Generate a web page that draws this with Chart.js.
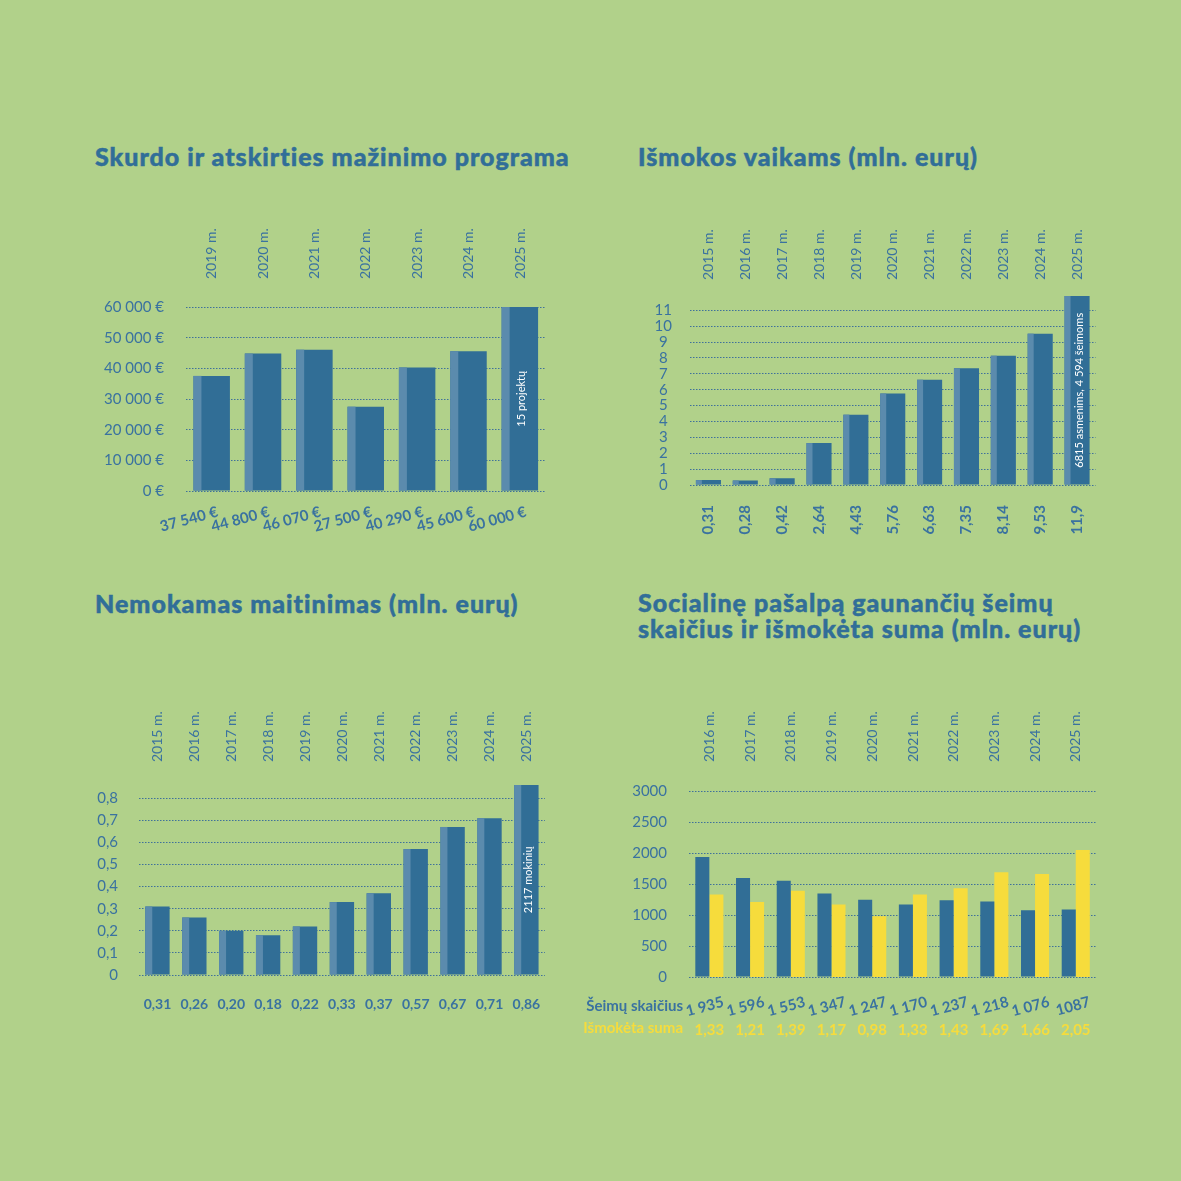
<!DOCTYPE html>
<html lang="lt">
<head>
<meta charset="UTF-8">
<title>Socialinė parama</title>
<script src="https://cdn.jsdelivr.net/npm/chart.js"></script>
<style>
  body { margin: 0; background: #b1d18a; width: 1181px; height: 1181px; position: relative; overflow: hidden; font-family: Lato, sans-serif; }
  h2 { position: absolute; margin: 0; font-size: 25px; font-weight: 900; color: #316e98; line-height: 27px; letter-spacing: 1px; white-space: nowrap; -webkit-text-stroke: 0.5px #316e98; }
  .box { position: absolute; }
</style>
</head>
<body>
<h2 style="left:95px;top:143px">Skurdo ir atskirties mažinimo programa</h2>
<h2 style="left:638px;top:143px">Išmokos vaikams (mln. eurų)</h2>
<h2 style="left:95px;top:590px">Nemokamas maitinimas (mln. eurų)</h2>
<h2 style="left:638px;top:589px;line-height:26px">Socialinę pašalpą gaunančių šeimų<br>skaičius ir išmokėta suma (mln. eurų)</h2>

<div class="box" style="left:91px;top:200px;width:457px;height:345px"><canvas id="c1"></canvas></div>
<div class="box" style="left:640px;top:200px;width:476px;height:345px"><canvas id="c2"></canvas></div>
<div class="box" style="left:90px;top:690px;width:472px;height:340px"><canvas id="c3"></canvas></div>
<div class="box" style="left:575px;top:690px;width:530px;height:350px"><canvas id="c4"></canvas></div>

<script>
// --- duomenys ---
const skurdoYears = ['2019 m.', '2020 m.', '2021 m.', '2022 m.', '2023 m.', '2024 m.', '2025 m.'];
const skurdoValues = [37540, 44800, 46070, 27500, 40290, 45600, 60000];
const skurdoLabels = ['37 540 €', '44 800 €', '46 070 €', '27 500 €', '40 290 €', '45 600 €', '60 000 €'];

const vaikamsYears = ['2015 m.', '2016 m.', '2017 m.', '2018 m.', '2019 m.', '2020 m.', '2021 m.', '2022 m.', '2023 m.', '2024 m.', '2025 m.'];
const vaikamsValues = [0.31, 0.28, 0.42, 2.64, 4.43, 5.76, 6.63, 7.35, 8.14, 9.53, 11.9];
const vaikamsLabels = ['0,31', '0,28', '0,42', '2,64', '4,43', '5,76', '6,63', '7,35', '8,14', '9,53', '11,9'];

const maitYears = ['2015 m.', '2016 m.', '2017 m.', '2018 m.', '2019 m.', '2020 m.', '2021 m.', '2022 m.', '2023 m.', '2024 m.', '2025 m.'];
const maitValues = [0.31, 0.26, 0.20, 0.18, 0.22, 0.33, 0.37, 0.57, 0.67, 0.71, 0.86];
const maitLabels = ['0,31', '0,26', '0,20', '0,18', '0,22', '0,33', '0,37', '0,57', '0,67', '0,71', '0,86'];

const pasalpaYears = ['2016 m.', '2017 m.', '2018 m.', '2019 m.', '2020 m.', '2021 m.', '2022 m.', '2023 m.', '2024 m.', '2025 m.'];
const seimuSkaicius = [1935, 1596, 1553, 1347, 1247, 1170, 1237, 1218, 1076, 1087];
const seimuLabels = ['1 935', '1 596', '1 553', '1 347', '1 247', '1 170', '1 237', '1 218', '1 076', '1087'];
const ismoketaSuma = [1.33, 1.21, 1.39, 1.17, 0.98, 1.33, 1.43, 1.69, 1.66, 2.05];
const sumaLabels = ['1,33', '1,21', '1,39', '1,17', '0,98', '1,33', '1,43', '1,69', '1,66', '2,05'];

// --- stilius ---
const BLUE = '#316e96';
const STRIP = '#5b8bad';
const TEXT = '#3a72a0';
const YELLOW = '#f6dc3c';
const GRID = '#3f719b';

// šviesi juosta kairėje stulpelio pusėje + baltas užrašas paskutiniame stulpelyje
const barDecor = {
    id: 'barDecor',
    afterDatasetsDraw(chart, args, opts) {
        const ctx = chart.ctx;
        const meta = chart.getDatasetMeta(0);
        if (opts.strip) {
            ctx.save();
            ctx.fillStyle = STRIP;
            meta.data.forEach(bar => {
                ctx.fillRect(bar.x - bar.width / 2, bar.y, opts.strip, bar.base - bar.y);
            });
            ctx.restore();
        }
        if (opts.note) {
            const bar = meta.data[meta.data.length - 1];
            ctx.save();
            ctx.translate(bar.x + 2, (bar.y + bar.base) / 2);
            ctx.rotate(-Math.PI / 2);
            ctx.fillStyle = '#ffffff';
            ctx.font = '11px Lato';
            ctx.textAlign = 'center';
            ctx.textBaseline = 'middle';
            ctx.fillText(opts.note, 0, 0);
            ctx.restore();
        }
        if (opts.rowTitles) {
            const sx = chart.scales.x, s3 = chart.scales.x3;
            ctx.save();
            ctx.font = 'bold 15px Lato';
            ctx.textAlign = 'right';
            ctx.textBaseline = 'middle';
            ctx.fillStyle = TEXT;
            ctx.fillText(opts.rowTitles[0], chart.chartArea.left - 6, sx.bottom - 11);
            ctx.fillStyle = YELLOW;
            ctx.fillText(opts.rowTitles[1], chart.chartArea.left - 6, (s3.top + s3.bottom) / 2);
            ctx.restore();
        }
    }
};

const gridY = { color: GRID, lineWidth: 1, drawTicks: false };
const noGrid = { display: false, drawTicks: false };
const dotted = { display: false, dash: [1.5, 1.5] };
const yearAxis = (labels, pad, h) => ({
    type: 'category', labels: labels, position: 'top', offset: true,
    grid: noGrid, border: { display: false },
    ticks: { minRotation: 90, maxRotation: 90, autoSkip: false, padding: pad, labelOffset: 17, color: TEXT, font: { family: 'Lato', size: 14 } },
    afterFit: s => { s.height = h; }
});
const common = {
    responsive: true, maintainAspectRatio: false, animation: false,
    plugins: { legend: { display: false }, tooltip: { enabled: false } }
};

// 1. Skurdo ir atskirties mažinimo programa
new Chart(document.getElementById('c1'), {
    type: 'bar',
    data: { labels: skurdoLabels, datasets: [{ data: skurdoValues, backgroundColor: BLUE, barPercentage: 0.71, categoryPercentage: 1 }] },
    plugins: [barDecor],
    options: {
        ...common,
        layout: { padding: { right: 2 } },
        plugins: { ...common.plugins, barDecor: { strip: 8, note: '15 projektų' } },
        scales: {
            x: {
                grid: noGrid, border: { display: false },
                ticks: { minRotation: 15, maxRotation: 15, autoSkip: false, padding: 12, labelOffset: 6, color: TEXT, font: { family: 'Lato', size: 15, weight: 'bold' } },
                afterFit: s => { s.height = 54; }
            },
            xTop: yearAxis(skurdoYears, 28, 107),
            y: {
                min: 0, max: 60000,
                grid: gridY, border: dotted,
                ticks: { stepSize: 10000, padding: 22, color: TEXT, font: { family: 'Lato', size: 15 },
                    callback: v => v === 0 ? '0 €' : (v / 1000) + ' 000 €' },
                afterFit: s => { s.width = 95; }
            }
        }
    }
});

// 2. Išmokos vaikams
new Chart(document.getElementById('c2'), {
    type: 'bar',
    data: { labels: vaikamsLabels, datasets: [{ data: vaikamsValues, backgroundColor: BLUE, barPercentage: 0.68, categoryPercentage: 1 }] },
    plugins: [barDecor],
    options: {
        ...common,
        layout: { padding: { right: 7 } },
        plugins: { ...common.plugins, barDecor: { strip: 6, note: '6815 asmenims, 4 594 šeimoms' } },
        scales: {
            x: {
                grid: noGrid, border: { display: false },
                ticks: { minRotation: 90, maxRotation: 90, autoSkip: false, padding: 20, color: TEXT, font: { family: 'Lato', size: 15, weight: 'bold' } },
                afterFit: s => { s.height = 60; }
            },
            xTop: yearAxis(vaikamsYears, 16, 96),
            y: {
                min: 0, max: 11.9,
                grid: gridY, border: dotted,
                ticks: { stepSize: 1, includeBounds: false, autoSkip: false, padding: 18, crossAlign: 'center', color: TEXT,
                    font: { family: 'Lato', size: 15, lineHeight: 0.8 } },
                afterFit: s => { s.width = 50; }
            }
        }
    }
});

// 3. Nemokamas maitinimas
new Chart(document.getElementById('c3'), {
    type: 'bar',
    data: { labels: maitLabels, datasets: [{ data: maitValues, backgroundColor: BLUE, barPercentage: 0.66, categoryPercentage: 1 }] },
    plugins: [barDecor],
    options: {
        ...common,
        layout: { padding: { right: 5 } },
        plugins: { ...common.plugins, barDecor: { strip: 7, note: '2117 mokinių' } },
        scales: {
            x: {
                grid: noGrid, border: { display: false },
                ticks: { maxRotation: 0, autoSkip: false, padding: 21, color: TEXT, font: { family: 'Lato', size: 14, weight: 'bold' } },
                afterFit: s => { s.height = 55; }
            },
            xTop: yearAxis(maitYears, 23, 95),
            y: {
                min: 0, max: 0.86,
                grid: gridY, border: dotted,
                ticks: { stepSize: 0.1, includeBounds: false, autoSkip: false, padding: 21, color: TEXT,
                    font: { family: 'Lato', size: 15, lineHeight: 0.8 },
                    callback: v => v === 0 ? '0' : v.toFixed(1).replace('.', ',') },
                afterFit: s => { s.width = 49; }
            }
        }
    }
});

// 4. Socialinė pašalpa
new Chart(document.getElementById('c4'), {
    type: 'bar',
    data: {
        labels: seimuLabels,
        datasets: [
            { data: seimuSkaicius, backgroundColor: BLUE, yAxisID: 'y', barPercentage: 1, categoryPercentage: 0.69 },
            { data: ismoketaSuma, backgroundColor: YELLOW, yAxisID: 'y2', barPercentage: 1, categoryPercentage: 0.69 }
        ]
    },
    plugins: [barDecor],
    options: {
        ...common,
        layout: { padding: { right: 5 } },
        plugins: { ...common.plugins, barDecor: { rowTitles: ['Šeimų skaičius', 'Išmokėta suma'] } },
        scales: {
            x: {
                weight: 0,
                grid: noGrid, border: { display: false },
                ticks: { minRotation: 15, maxRotation: 15, autoSkip: false, padding: 16, labelOffset: 14, color: TEXT, font: { family: 'Lato', size: 15, weight: 'bold' } },
                afterFit: s => { s.height = 40; }
            },
            x3: {
                type: 'category', labels: sumaLabels, position: 'bottom', offset: true, weight: 1,
                grid: noGrid, border: { display: false },
                ticks: { maxRotation: 0, autoSkip: false, padding: 4, color: YELLOW, font: { family: 'Lato', size: 15, weight: 'bold' } },
                afterFit: s => { s.height = 23; }
            },
            xTop: yearAxis(pasalpaYears, 29, 101),
            y: {
                min: 0, max: 3000,
                grid: gridY, border: dotted,
                ticks: { stepSize: 500, padding: 22, color: TEXT, font: { family: 'Lato', size: 15 }, callback: v => String(v) },
                afterFit: s => { s.width = 114; }
            },
            y2: { display: false, min: 0, max: 3 }
        }
    }
});
</script>
</body>
</html>
